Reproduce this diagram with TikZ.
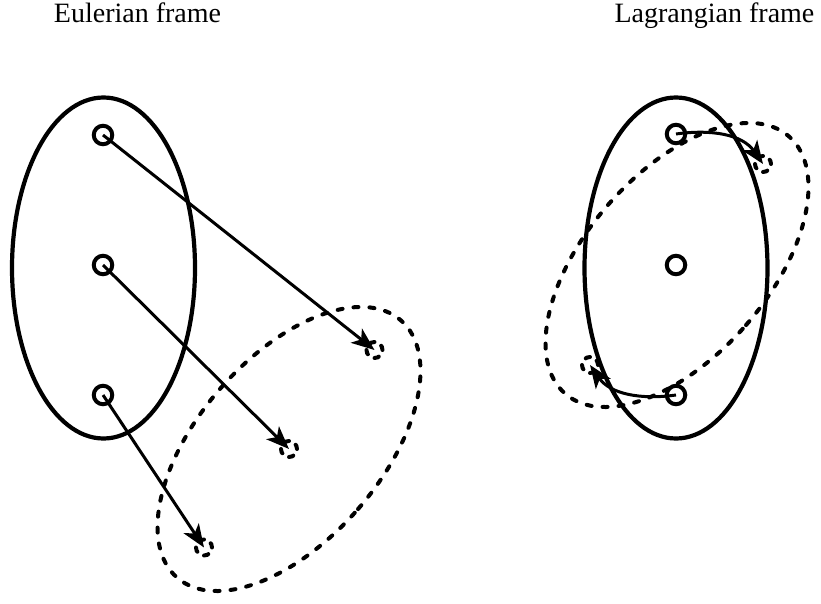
\documentclass[tikz,border=0pt]{standalone}
\usepackage{fontspec}
\setmainfont{Liberation Serif}
\usetikzlibrary{arrows.meta,shapes.geometric}

\tikzset{
  title/.style={anchor=base, font=\fontsize{28}{34}\selectfont, inner sep=0pt},
  frame/.style={draw, ellipse, line width=4.2pt, minimum width=183pt, minimum height=341pt, inner sep=0pt},
  moved/.style={frame, line width=4pt, dash pattern=on 5pt off 11pt, line cap=round},
  particle/.style={draw, circle, line width=4pt, minimum size=18.5pt, inner sep=0pt},
  ghost/.style={draw, circle, line width=4pt, minimum size=16pt, inner sep=0pt, dash pattern=on 4.5pt off 8pt, line cap=round},
  trajectory/.style={line width=3pt, -{Stealth[length=23pt, width=18pt, inset=6pt]}},
}

\begin{document}
\begin{tikzpicture}[x=1pt, y=-1pt]
\useasboundingbox (0,0) rectangle (821,604);

% titles
\node[title] (tl) at (137.5,22.5) {Eulerian frame};
\node[title] (tr) at (714.5,22.5) {Lagrangian frame};

% ---- Eulerian frame ----
\node[frame] (E) at (103.5,268) {};
\node[moved, rotate=-41] (E2) at (289,449) {};
\node[particle] (e1) at (103,135) {};
\node[particle] (e2) at (103,265) {};
\node[particle] (e3) at (103,395) {};
\node[ghost] (g1) at (374.5,350) {};
\node[ghost] (g2) at (289,449) {};
\node[ghost] (g3) at (204,547.5) {};
\draw[trajectory] (e1.center) -- (g1.center);
\draw[trajectory] (e2.center) -- (g2.center);
\draw[trajectory] (e3.center) -- (g3.center);

% ---- Lagrangian frame ----
\node[frame] (L) at (676,268) {};
\node[moved, rotate=-41] (L2) at (677,265) {};
\node[particle] (r1) at (676,134) {};
\node[particle] (r2) at (676,265) {};
\node[particle] (r3) at (676,395) {};
\node[ghost] (h1) at (763,164) {};
\node[ghost] (h3) at (590,365) {};
\draw[trajectory] (r1.center) to[out=8, in=125] (h1.center);
\draw[trajectory] (r3.center) to[out=188, in=-55] (h3.center);
\end{tikzpicture}
\end{document}
